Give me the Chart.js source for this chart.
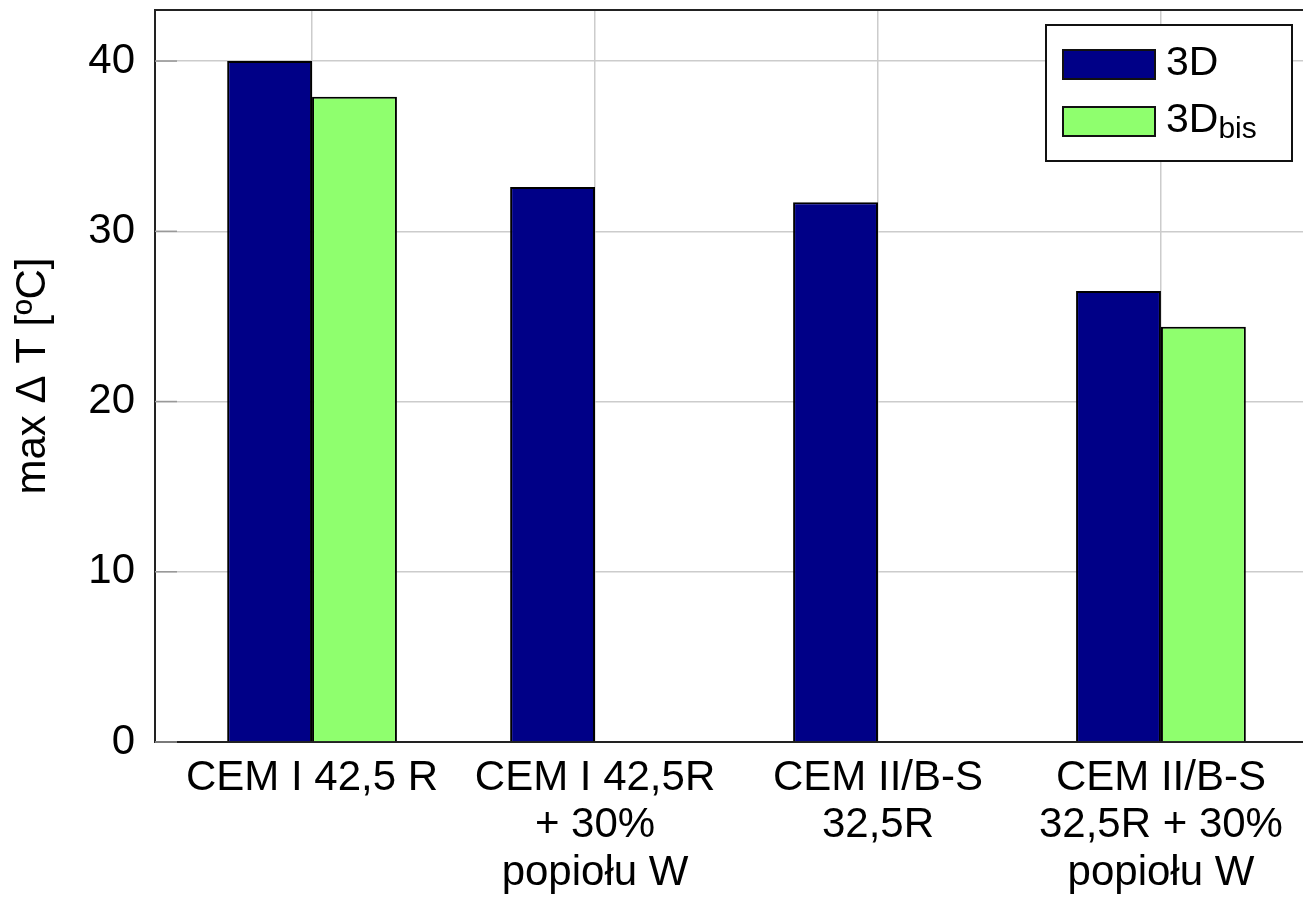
<!DOCTYPE html>
<html>
<head>
<meta charset="utf-8">
<script src="https://cdn.jsdelivr.net/npm/chart.js@4"></script>
<style>
  html, body { margin: 0; padding: 0; background: #fff; }
  #wrap { width: 1303px; height: 897px; }
</style>
</head>
<body>
<div id="wrap"><canvas id="chart" width="1303" height="897"></canvas></div>
<script>
// categories (multi-line labels)
const categories = [
    ['CEM I 42,5 R'],
    ['CEM I 42,5R', '+ 30%', 'popiołu W'],
    ['CEM II/B-S', '32,5R'],
    ['CEM II/B-S', '32,5R + 30%', 'popiołu W']
];
// series values, max ΔT [ºC]
const values3D = [40.0, 32.6, 31.7, 26.5];
const values3Dbis = [37.9, null, null, 24.4];
// series names, "_" marks a subscript
const seriesNames = ['3D', '3D_bis'];
const yTicks = [0, 10, 20, 30, 40];

const FONT = "'Liberation Sans', Arial, Helvetica, sans-serif";

function toPoints(arr) {
    return arr.map((v, i) => ({ x: i, y: v }));
}

// Ramka u góry i krótkie znaczniki osi Y
const framePlugin = {
    id: 'frame',
    afterDatasetsDraw(chart) {
        const { ctx, chartArea } = chart;
        const y = chart.scales.y;
        ctx.save();
        ctx.strokeStyle = '#999';
        ctx.lineWidth = 1.5;
        yTicks.forEach(t => {
            const py = y.getPixelForValue(t);
            ctx.beginPath();
            ctx.moveTo(chartArea.left, py);
            ctx.lineTo(chartArea.left + 22, py);
            ctx.stroke();
        });
        ctx.strokeStyle = '#222';
        ctx.lineWidth = 2;
        ctx.beginPath();
        ctx.moveTo(chartArea.left, chartArea.top);
        ctx.lineTo(chartArea.right, chartArea.top);
        ctx.stroke();
        ctx.restore();
    }
};

// Legenda z indeksem dolnym
const legendPlugin = {
    id: 'subLegend',
    afterDraw(chart) {
        const { ctx } = chart;
        const box = { x: 1046, y: 25, w: 246, h: 136 };
        ctx.save();
        ctx.fillStyle = '#fff';
        ctx.fillRect(box.x, box.y, box.w, box.h);
        ctx.strokeStyle = '#111';
        ctx.lineWidth = 2;
        ctx.strokeRect(box.x, box.y, box.w, box.h);
        chart.data.datasets.forEach((ds, i) => {
            const sy = 50 + i * 57;
            ctx.fillStyle = ds.backgroundColor;
            ctx.fillRect(1063, sy, 92, 29);
            ctx.strokeStyle = '#111';
            ctx.lineWidth = 2;
            ctx.strokeRect(1063, sy, 92, 29);
            const [main, sub] = ds.label.split('_');
            ctx.fillStyle = '#000';
            ctx.textBaseline = 'alphabetic';
            ctx.textAlign = 'left';
            ctx.font = '41px ' + FONT;
            ctx.fillText(main, 1166, sy + 25);
            if (sub) {
                const w = ctx.measureText(main).width;
                ctx.font = '30px ' + FONT;
                ctx.fillText(sub, 1166 + w, sy + 31);
            }
        });
        ctx.restore();
    }
};

const ctx = document.getElementById('chart');
new Chart(ctx.getContext('2d'), {
    type: 'bar',
    data: {
        datasets: [
            {
                label: seriesNames[0],
                data: toPoints(values3D),
                backgroundColor: '#000087',
                borderColor: '#000',
                borderWidth: 2
            },
            {
                label: seriesNames[1],
                data: toPoints(values3Dbis),
                backgroundColor: '#8fff6e',
                borderColor: '#000',
                borderWidth: 2
            }
        ]
    },
    plugins: [framePlugin, legendPlugin],
    options: {
        responsive: false,
        animation: false,
        devicePixelRatio: 1,
        layout: { padding: { top: 10, right: 0, left: 0, bottom: 0 } },
        datasets: {
            bar: { categoryPercentage: 0.6, barPercentage: 1.0 }
        },
        plugins: {
            legend: { display: false },
            tooltip: { enabled: false }
        },
        scales: {
            x: {
                type: 'linear',
                offset: false,
                min: -0.555,
                max: 3.502,
                afterBuildTicks(scale) {
                    scale.ticks = categories.map((c, i) => ({ value: i }));
                },
                afterFit(scale) {
                    scale.height = 155;
                    scale.paddingLeft = 0;
                    scale.paddingRight = 0;
                },
                grid: {
                    offset: false,
                    color: '#cccccc',
                    lineWidth: 1.5,
                    drawTicks: false
                },
                border: { color: '#222', width: 2 },
                ticks: {
                    padding: 12,
                    color: '#000',
                    maxRotation: 0,
                    autoSkip: false,
                    font: { family: FONT, size: 42, lineHeight: 1.14 },
                    callback: (v) => categories[v]
                }
            },
            y: {
                min: 0,
                max: 43,
                afterBuildTicks(scale) {
                    scale.ticks = yTicks.map(v => ({ value: v }));
                },
                afterFit(scale) {
                    scale.width = 155;
                    scale.paddingTop = 0;
                    scale.paddingBottom = 0;
                },
                grid: {
                    color: '#cccccc',
                    lineWidth: 1.5,
                    drawTicks: false
                },
                border: { color: '#222', width: 2 },
                ticks: {
                    padding: 20,
                    color: '#000',
                    font: { family: FONT, size: 42 }
                },
                title: {
                    display: true,
                    text: 'max Δ T [ºC]',
                    color: '#000',
                    padding: { top: 8, bottom: 0 },
                    font: { family: FONT, size: 42, lineHeight: 1.2 }
                }
            }
        }
    }
});
</script>
</body>
</html>
